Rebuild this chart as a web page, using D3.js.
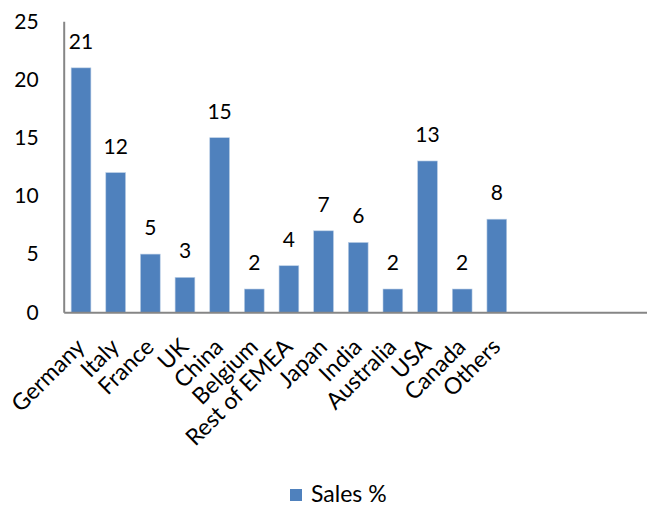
<!DOCTYPE html>
<html>
<head>
<meta charset="utf-8">
<script src="https://cdn.jsdelivr.net/npm/d3@7"></script>
<style>
  body { margin: 0; background: #fff; }
  text { font-family: Lato, "Open Sans", sans-serif; fill: #000; }
</style>
</head>
<body>
<script>
var width = 647, height = 509;

var categories = ["Germany", "Italy", "France", "UK", "China", "Belgium", "Rest of EMEA",
                  "Japan", "India", "Australia", "USA", "Canada", "Others"];
var sales = [21, 12, 5, 3, 15, 2, 4, 7, 6, 2, 13, 2, 8];
var yTicks = [0, 5, 10, 15, 20, 25];
var seriesName = "Sales %";

var color_bar = "#4F81BD";
var color_axis = "#868686";

// the plot has 17 slots, only the first 13 are used
var slots = d3.range(17).map(function(i) { return i < categories.length ? categories[i] : "_" + i; });
var data = categories.map(function(c, i) { return { cat: c, v: sales[i] }; });

var x0 = 63.7, slotw = 34.65, y0 = 312.3, y1 = 21.3;

var x = d3.scaleBand().domain(slots).range([x0, x0 + slotw * slots.length])
  .paddingInner(0.43).paddingOuter(0.215);
var y = d3.scaleLinear().domain([0, 25]).range([y0, y1]);

var svg = d3.select("body").append("svg")
  .attr("width", width).attr("height", height);

// bars
svg.append("g").selectAll("rect").data(data)
  .enter().append("rect")
  .attr("x", function(d) { return x(d.cat); })
  .attr("y", function(d) { return y(d.v); })
  .attr("width", x.bandwidth())
  .attr("height", function(d) { return y0 - y(d.v); })
  .attr("fill", color_bar)
  .attr("stroke", "#B9CDE5").attr("stroke-width", 0.6);

// value labels
svg.append("g").selectAll("text").data(data)
  .enter().append("text")
  .attr("x", function(d) { return x(d.cat) + x.bandwidth() / 2; })
  .attr("y", function(d) { return y(d.v) - 19; })
  .attr("text-anchor", "middle")
  .attr("font-size", 21)
  .text(function(d) { return d.v; });

// y axis
var yAxis = svg.append("g")
  .attr("transform", "translate(" + x0 + ",0)")
  .call(d3.axisLeft(y).tickValues(yTicks).tickSize(0).tickPadding(25));
yAxis.select(".domain").attr("stroke", color_axis).attr("stroke-width", 2);
yAxis.selectAll("text").attr("font-size", 21).attr("fill", "#000")
  .style("font-family", "Lato, 'Open Sans', sans-serif");

// x axis
var xAxis = svg.append("g")
  .attr("transform", "translate(0," + y0 + ")")
  .call(d3.axisBottom(x).tickSize(0).tickFormat(function(d) { return d.charAt(0) === "_" ? "" : d; }));
xAxis.select(".domain").attr("stroke", color_axis).attr("stroke-width", 2);
xAxis.selectAll("text")
  .attr("font-size", 23).attr("fill", "#000")
  .style("font-family", "Lato, 'Open Sans', sans-serif")
  .attr("text-anchor", "end")
  .attr("dy", 0).attr("y", 0)
  .attr("transform", "translate(5,36) rotate(-45)");

// legend
var lg = svg.append("g").attr("transform", "translate(290,489)");
lg.append("rect").attr("width", 12).attr("height", 12).attr("fill", color_bar);
lg.append("text").attr("x", 21).attr("y", 13).attr("font-size", 23).text(seriesName);
</script>
</body>
</html>
